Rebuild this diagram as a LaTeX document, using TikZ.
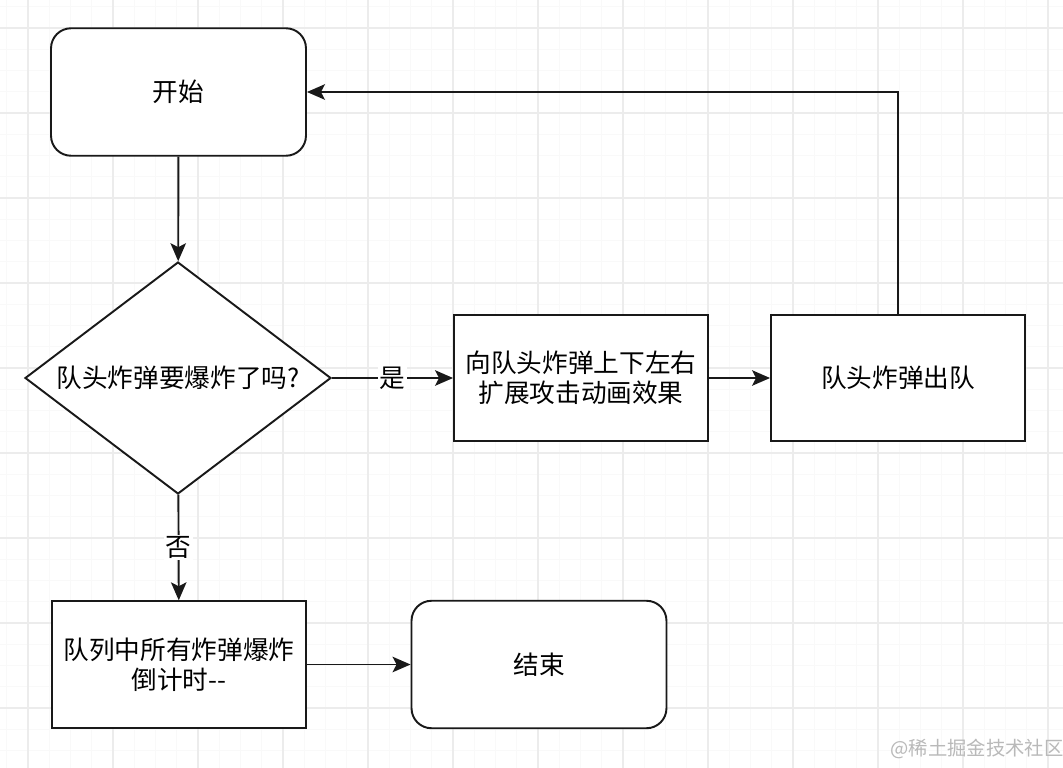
\documentclass[tikz,border=0pt]{standalone}
\usepackage{fontspec}
\setmainfont{Noto Sans CJK SC}
\usetikzlibrary{shapes.geometric,arrows.meta}

\begin{document}
\begin{tikzpicture}[x=0.02cm,y=-0.02cm,
    every node/.style={font=\fontsize{14.6}{17}\selectfont,align=center},
    startend/.style={draw=black!90,line width=1.1pt,rounded corners=0.4cm,
      minimum width=5.1cm,minimum height=2.55cm,fill=white},
    process/.style={draw=black!90,line width=1.1pt,
      minimum width=5.08cm,minimum height=2.53cm,fill=white},
    decision/.style={draw=black!90,line width=1.1pt,diamond,aspect=1.32,inner sep=0pt,
      minimum width=6.12cm,minimum height=4.64cm,fill=white},
    flow/.style={draw=black!90,line width=1.1pt,
      -{Stealth[length=0.36cm,width=0.31cm,inset=0.08cm]}},
    lbl/.style={fill=white,inner sep=1pt}]
  \useasboundingbox (0,0) rectangle (1063,768);
  \fill[white] (0,0) rectangle (1063,768);
  % grid
  \foreach \k in {0,...,49}
    \draw[gray!5,line width=0.5pt] (6.75+21.25*\k,0) -- (6.75+21.25*\k,768);
  \foreach \k in {0,...,35}
    \draw[gray!5,line width=0.5pt] (0,6.75+21.25*\k) -- (1063,6.75+21.25*\k);
  \foreach \k in {0,...,12}
    \draw[gray!15,line width=0.7pt] (28+85*\k,0) -- (28+85*\k,768);
  \foreach \k in {0,...,8}
    \draw[gray!15,line width=0.7pt] (0,28+85*\k) -- (1063,28+85*\k);

  \node[startend] (start) at (178.5,92) {开始};
  \node[decision] (bomb) at (178,378) {队头炸弹要爆炸了吗?};
  \node[process] (expand) at (581,378) {向队头炸弹上下左右\\扩展攻击动画效果};
  \node[process] (dequeue) at (898,378) {队头炸弹出队};
  \node[process] (countdown) at (179,664.5) {队列中所有炸弹爆炸\\倒计时\mbox{-}\mbox{-}};
  \node[startend] (finish) at (539,664.5) {结束};

  \draw[flow] (start) -- (bomb);
  \draw[flow] (bomb) -- node[lbl] {是} (expand);
  \draw[flow] (expand) -- (dequeue);
  \draw[flow] (dequeue.north) |- (start.east);
  \draw[flow] (bomb) -- node[lbl,pos=0.5] {否} (countdown);
  \draw[flow] (countdown) -- (finish);

  \node[text=gray!55,font=\fontsize{11}{13}\selectfont] (mark) at (977,749) {@稀土掘金技术社区};
\end{tikzpicture}
\end{document}
